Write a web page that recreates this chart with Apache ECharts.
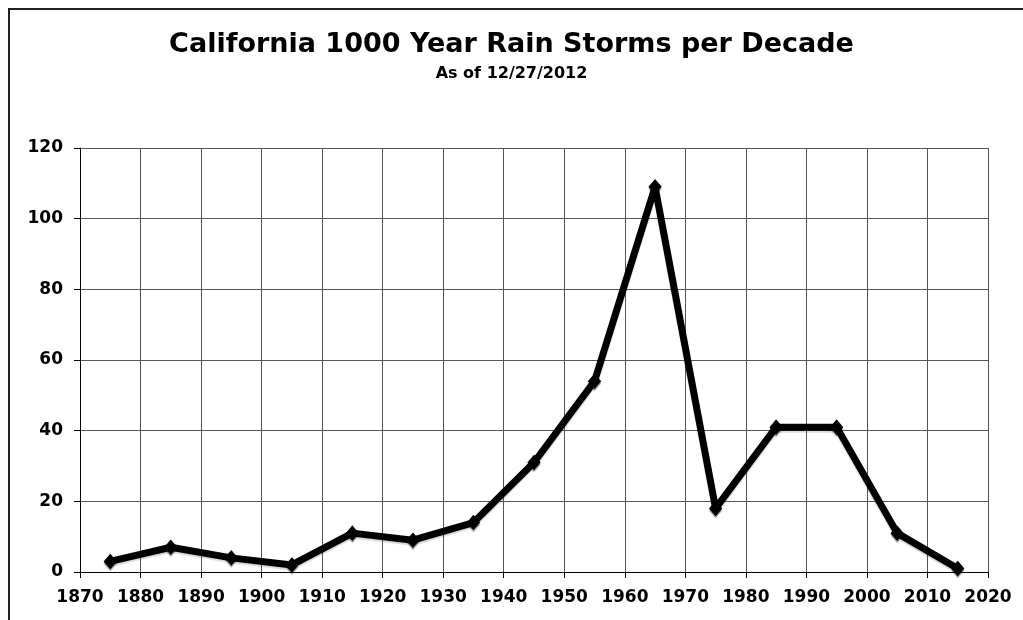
<!DOCTYPE html>
<html>
<head>
<meta charset="utf-8">
<script src="https://cdn.jsdelivr.net/npm/echarts@6/dist/echarts.min.js"></script>
<style>
  html, body { margin: 0; padding: 0; background: #fff; }
  #chart { width: 1023px; height: 620px; }
</style>
</head>
<body>
<div id="chart"></div>
<script>
// Mid-decade year for each decade and the count of 1000-year rain storms in it
const decadeMid = [1875, 1885, 1895, 1905, 1915, 1925, 1935, 1945, 1955, 1965, 1975, 1985, 1995, 2005, 2015];
const stormCounts = [3, 7, 4, 2, 11, 9, 14, 31, 54, 109, 18, 41, 41, 11, 1];

const titleText = 'California 1000 Year Rain Storms per Decade';
const subtitleText = 'As of 12/27/2012';

const FONT = '"DejaVu Sans", Verdana, sans-serif';

const chart = echarts.init(document.getElementById('chart'), null, { renderer: 'canvas' });

chart.setOption({
  backgroundColor: '#ffffff',
  animation: false,
  title: {
    text: titleText,
    subtext: subtitleText,
    left: 'center',
    top: 26,
    itemGap: 8,
    textStyle: { fontFamily: FONT, fontWeight: 'bold', fontSize: 27, color: '#000' },
    subtextStyle: { fontFamily: FONT, fontWeight: 'bold', fontSize: 16, color: '#000' }
  },
  graphic: [{
    type: 'rect',
    shape: { x: 9, y: 9, width: 1100, height: 700 },
    style: { fill: null, stroke: '#222', lineWidth: 2 },
    silent: true
  }],
  grid: { left: 80, right: 35, top: 148, bottom: 48 },
  xAxis: {
    type: 'value',
    min: 1870,
    max: 2020,
    interval: 10,
    axisLine: { show: true, lineStyle: { color: '#000', width: 1 } },
    axisTick: { show: true, length: 6, lineStyle: { color: '#000' } },
    axisLabel: {
      margin: 17,
      fontFamily: FONT, fontWeight: 'bold', fontSize: 17, color: '#000',
      formatter: v => String(v)
    },
    splitLine: { show: true, lineStyle: { color: '#555', width: 1 } }
  },
  yAxis: {
    type: 'value',
    min: 0,
    max: 120,
    interval: 20,
    axisLine: { show: true, lineStyle: { color: '#000', width: 1 } },
    axisTick: { show: true, length: 6, lineStyle: { color: '#000' } },
    axisLabel: {
      margin: 17,
      fontFamily: FONT, fontWeight: 'bold', fontSize: 17, color: '#000'
    },
    splitLine: { show: true, lineStyle: { color: '#555', width: 1 } }
  },
  series: [{
    type: 'line',
    data: decadeMid.map((x, i) => [x, stormCounts[i]]),
    symbol: 'diamond',
    symbolSize: [12, 14],
    showAllSymbol: true,
    lineStyle: {
      color: '#000', width: 7,
      shadowColor: 'rgba(0,0,0,0.15)', shadowOffsetX: 0, shadowOffsetY: 2, shadowBlur: 1
    },
    itemStyle: {
      color: '#000', borderColor: '#000',
      shadowColor: 'rgba(0,0,0,0.3)', shadowOffsetX: 0, shadowOffsetY: 2, shadowBlur: 1
    },
    z: 3
  }]
});
</script>
</body>
</html>
